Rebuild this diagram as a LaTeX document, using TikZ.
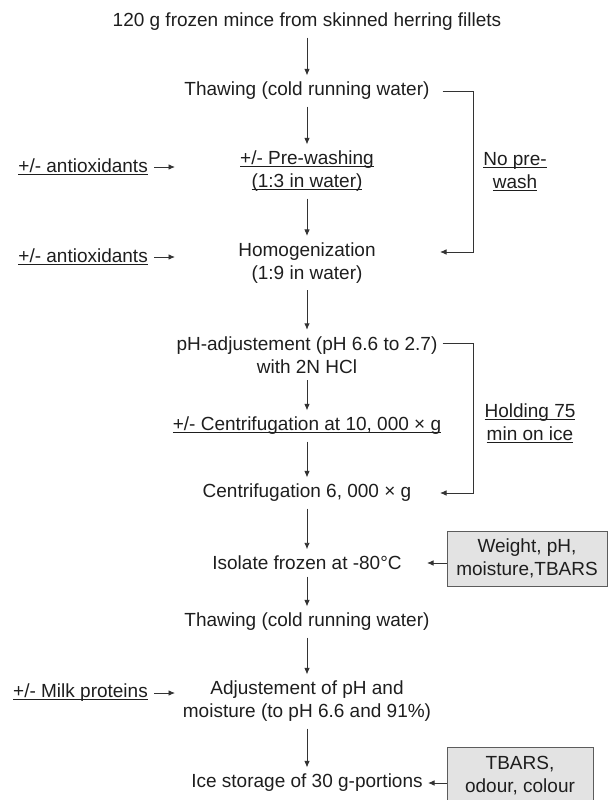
\documentclass[tikz,border=0pt]{standalone}
\usepackage{fontspec}
\setmainfont{Liberation Sans}
\usetikzlibrary{arrows.meta}
\definecolor{ink}{HTML}{1E1E1E}
\definecolor{wire}{HTML}{333333}
\definecolor{panel}{HTML}{E3E3E3}
\newcommand{\undr}[1]{\setbox0=\hbox{#1}\rlap{\rule[-2.5pt]{\wd0}{1.1pt}}\box0}

\begin{document}
\begin{tikzpicture}[x=1pt,y=-1pt,
  stage/.style={text=ink,align=center,inner xsep=0pt,inner ysep=6.5pt,
                font=\fontsize{19}{23}\selectfont},
  extra/.style={stage,anchor=east},
  flow/.style={-{Latex[length=6.5pt,width=5.5pt]},wire,line width=0.9pt},
  panelbox/.style={stage,draw=wire!80,fill=panel,line width=0.9pt,
                   minimum height=58pt}]
  \useasboundingbox (0,0) rectangle (608,800);
  % main chain
  \node[stage] (mince) at (307,22) {120 g frozen mince from skinned herring fillets};
  \node[stage] (thaw) at (307,91) {Thawing (cold running water)};
  \node[stage] (prewash) at (307,171.5) {\undr{+/- Pre-washing}\\\undr{(1:3 in water)}};
  \node[stage] (homog) at (307,263) {Homogenization\\(1:9 in water)};
  \node[stage] (phadj) at (307,355) {pH-adjustement (pH 6.6 to 2.7)\\with 2N HCl};
  \node[stage] (centhi) at (307,426) {\undr{+/- Centrifugation at 10, 000 × g}};
  \node[stage] (centlo) at (307,493) {Centrifugation 6, 000 × g};
  \node[stage] (isolate) at (307,563) {Isolate frozen at -80°C};
  \node[stage] (rethaw) at (307,622) {Thawing (cold running water)};
  \node[stage] (adjust) at (307,701.5) {Adjustement of pH and\\moisture (to pH 6.6 and 91\%)};
  \node[stage] (store) at (307,783) {Ice storage of 30 g-portions};
  \draw[flow] (mince) -- (thaw);
  \draw[flow] (thaw) -- (prewash);
  \draw[flow] (prewash) -- (homog);
  \draw[flow] (homog) -- (phadj);
  \draw[flow] (phadj) -- (centhi);
  \draw[flow] (centhi) -- (centlo);
  \draw[flow] (centlo) -- (isolate);
  \draw[flow] (isolate) -- (rethaw);
  \draw[flow] (rethaw) -- (adjust);
  \draw[flow] (adjust) -- (store);
  % additions on the left
  \node[extra] (antiA) at (148,167) {\undr{+/- antioxidants}};
  \node[extra] (antiB) at (148,257) {\undr{+/- antioxidants}};
  \node[extra] (milk) at (148,693) {\undr{+/- Milk proteins}};
  \coordinate (antiAend) at (175,167);
  \coordinate (antiBend) at (175,257);
  \coordinate (milkend) at (175,693);
  \draw[flow,shorten <=6pt] (antiA.east) -- (antiAend);
  \draw[flow,shorten <=6pt] (antiB.east) -- (antiBend);
  \draw[flow,shorten <=6pt] (milk.east) -- (milkend);
  % bypass routes
  \node[stage] (nowash) at (515,171.5) {\undr{No pre-}\\\undr{wash}};
  \node[stage] (holding) at (530,423.5) {\undr{Holding 75}\\\undr{min on ice}};
  \coordinate (nwtop) at (473,91);
  \coordinate (nwin) at (440,252);
  \coordinate (hdtop) at (473,343);
  \coordinate (hdin) at (440,493);
  \draw[flow,shorten <=13pt] (thaw.east) -- (nwtop) |- (nwin);
  \draw[flow,shorten <=5pt] (phadj.east |- hdtop) -- (hdtop) |- (hdin);
  % analyses
  \node[panelbox,minimum width=160pt,minimum height=55pt] (quality) at (527,558.5) {Weight, pH,\\moisture,TBARS};
  \node[panelbox,minimum width=146pt] (sensory) at (520,776) {TBARS,\\odour, colour};
  \coordinate (qualityend) at (427,563);
  \coordinate (sensoryend) at (428,783);
  \draw[flow] (quality.west |- qualityend) -- (qualityend);
  \draw[flow] (sensory.west |- sensoryend) -- (sensoryend);
\end{tikzpicture}
\end{document}
